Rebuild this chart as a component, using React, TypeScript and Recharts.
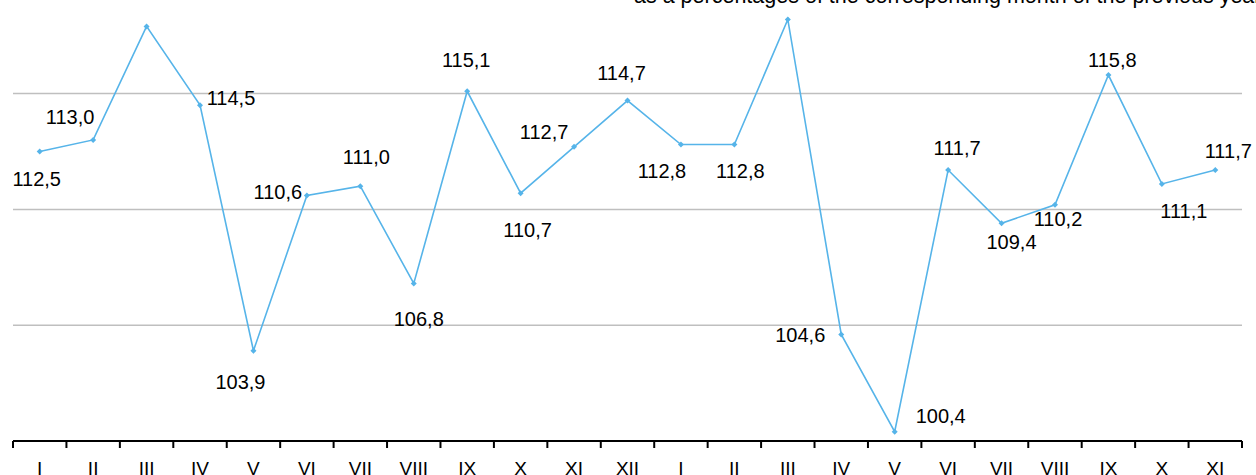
import React from 'react';
import { Line, LineChart, ReferenceLine, XAxis, YAxis } from 'recharts';

const MONTHS = [
  'I', 'II', 'III', 'IV', 'V', 'VI', 'VII', 'VIII', 'IX', 'X', 'XI', 'XII',
  'I', 'II', 'III', 'IV', 'V', 'VI', 'VII', 'VIII', 'IX', 'X', 'XI',
];
const VALUES = [
  112.5, 113.0, 117.9, 114.5, 103.9, 110.6, 111.0, 106.8, 115.1, 110.7, 112.7, 114.7,
  112.8, 112.8, 118.2, 104.6, 100.4, 111.7, 109.4, 110.2, 115.8, 111.1, 111.7,
];
// the two March labels sit above the plot and are cut off in the original
const SHOW_LABEL = [
  true, true, false, true, true, true, true, true, true, true, true, true,
  true, true, false, true, true, true, true, true, true, true, true,
];
const GRID_VALUES = [105, 110, 115];
const TITLE = 'as a percentages of the corresponding month of the previous year';

// label offset from its point (dx, dy), label centred
const LABEL_OFFSETS: [number, number][] = [
  [-3, 28], [-23, -23], [0, 0], [31, -7], [-13, 31], [-29, -3], [6, -29], [5, 35],
  [-1, -31], [7, 37], [-30, -15], [-6, -28], [-19, 26], [6, 26], [0, 0], [-41, 1],
  [46, -16], [9, -22], [10, 19], [3, 14], [4, -15], [22, 27], [13, -19],
];

const data = MONTHS.map((m, i) => ({ key: `${m}-${i}`, month: m, value: VALUES[i] }));

const W = 1256;
const H = 475;
const M = { top: 16, right: 14, bottom: 0, left: 13 };
const STEP = (W - M.left - M.right) / MONTHS.length;
const AXIS_Y = 441;
const FONT = 'Liberation Sans, Arial, sans-serif';
const LINE_COLOR = '#56b4e9';

const fmt = (v: number) => v.toFixed(1).replace('.', ',');

const MonthTick = (props: any) => {
  const { x, payload, index } = props;
  const left = x - STEP / 2;
  return (
    <g>
      <line x1={left} y1={AXIS_Y} x2={left} y2={AXIS_Y + 7} stroke="#000" strokeWidth={2} />
      {index === MONTHS.length - 1 && (
        <line x1={x + STEP / 2} y1={AXIS_Y} x2={x + STEP / 2} y2={AXIS_Y + 7} stroke="#000" strokeWidth={2} />
      )}
      <text x={x} y={475} textAnchor="middle" fontSize={19} fontFamily={FONT} fill="#000">
        {MONTHS[index] ?? payload.value}
      </text>
    </g>
  );
};

const Diamond = (props: any) => {
  const { cx, cy, index } = props;
  if (cx == null || cy == null) return null;
  const r = 3;
  return (
    <polygon
      key={`dot-${index}`}
      points={`${cx},${cy - r} ${cx + r},${cy} ${cx},${cy + r} ${cx - r},${cy}`}
      fill={LINE_COLOR}
    />
  );
};

const ValueLabel = (props: any) => {
  const { x, y, index, value } = props;
  if (!SHOW_LABEL[index]) return null;
  const [dx, dy] = LABEL_OFFSETS[index];
  return (
    <text
      key={`lbl-${index}`}
      x={x + dx}
      y={y + dy}
      textAnchor="middle"
      dominantBaseline="central"
      fontSize={20}
      fontFamily={FONT}
      fill="#000"
    >
      {fmt(value)}
    </text>
  );
};

export default function App() {
  return (
    <div style={{ position: 'absolute', left: 0, top: 0, width: W, height: H, overflow: 'hidden', background: '#fff' }}>
      <LineChart width={W} height={H} data={data} margin={M}>
        <XAxis
          dataKey="key"
          height={H - AXIS_Y}
          interval={0}
          padding={{ left: STEP / 2, right: STEP / 2 }}
          axisLine={{ stroke: '#000', strokeWidth: 2 }}
          tickLine={false}
          tick={<MonthTick />}
        />
        <YAxis
          width={0}
          domain={[100, 118.35]}
          tick={false}
          tickLine={false}
          axisLine={{ stroke: '#000', strokeWidth: 2 }}
        />
        {GRID_VALUES.map((v) => (
          <ReferenceLine key={v} y={v} stroke="#bfbfbf" strokeWidth={1.5} />
        ))}
        <Line
          type="linear"
          dataKey="value"
          stroke={LINE_COLOR}
          strokeWidth={1.6}
          dot={<Diamond />}
          activeDot={false}
          label={<ValueLabel />}
          isAnimationActive={false}
        />
        <text x={634} y={3} fontSize={21.5} fontFamily={FONT} fill="#000">
          {TITLE}
        </text>
      </LineChart>
    </div>
  );
}
